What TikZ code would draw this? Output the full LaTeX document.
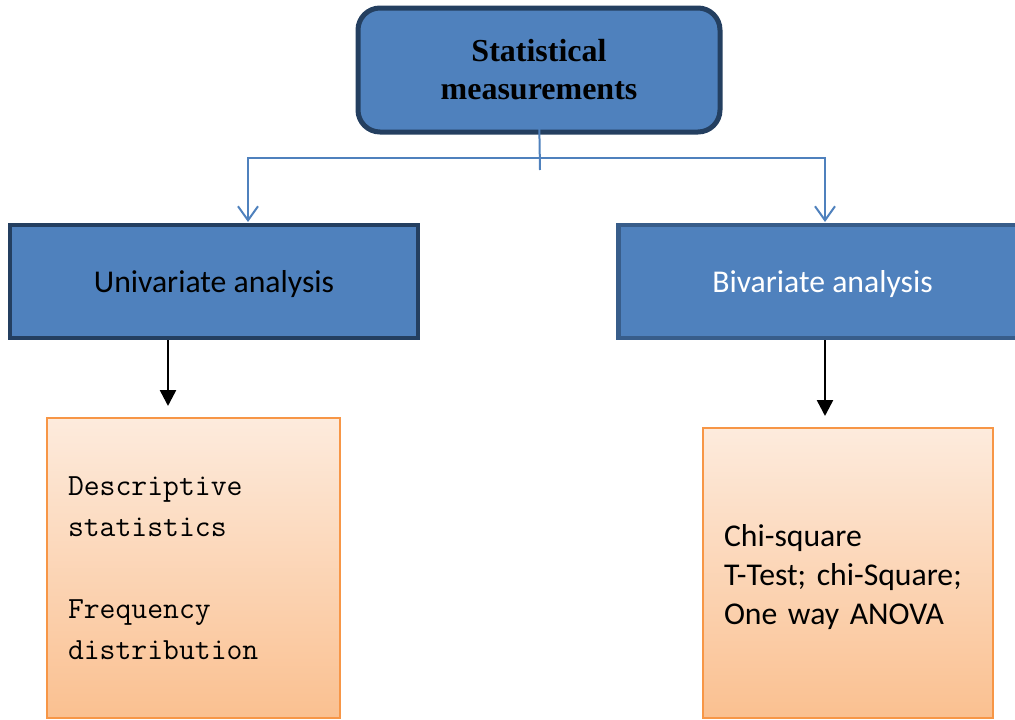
\documentclass[tikz,border=0pt]{standalone}
\usepackage{fontspec}
\setmainfont{Liberation Serif}
\newfontfamily\calibri{Carlito}
\usetikzlibrary{arrows.meta}
\definecolor{boxblue}{HTML}{4F81BD}
\definecolor{darknavy}{HTML}{243F60}
\definecolor{midnavy}{HTML}{385D8A}
\definecolor{peachtop}{HTML}{FDEBDD}
\definecolor{peachbot}{HTML}{FAC090}
\definecolor{orangeline}{HTML}{F79646}
\tikzset{
    headbox/.style={draw=darknavy, fill=boxblue, line width=5pt, rounded corners=22pt,
        minimum width=362pt, minimum height=124pt, align=center,
        font=\bfseries\fontsize{32}{38}\selectfont},
    groupbox/.style={fill=boxblue, line width=4.5pt, minimum width=408pt,
        minimum height=113pt, text height=24pt, text depth=3pt,
        font=\calibri\fontsize{31.7}{39}\selectfont},
    listbox/.style={draw=orangeline, line width=2.5pt, top color=peachtop,
        bottom color=peachbot, align=left, inner xsep=21pt, inner ysep=0pt},
    forkline/.style={draw=boxblue, line width=2pt},
    forkarrow/.style={forkline, -{Straight Barb[length=14pt, width=20pt]}},
    downarrow/.style={line width=2.5pt, -{Triangle[length=16pt, width=16pt]}}
}

\begin{document}
\begin{tikzpicture}[x=1pt, y=-1pt]
\clip (0,0) rectangle (1015,720);
% blue boxes
\node[headbox] (stat) at (539,70) {Statistical\\measurements};
\node[groupbox, draw=darknavy] (uni) at (214,281.5) {Univariate analysis};
\node[groupbox, draw=midnavy, text=white] (bi) at (822.5,281.5) {Bivariate analysis};
% orange boxes
\node[listbox, text width=251pt, minimum height=300pt,
    font=\ttfamily\fontsize{30.8}{41}\selectfont] (desc) at (193.5,568)
    {Descriptive\\statistics\\[41pt]Frequency\\distribution};
\node[listbox, text width=248pt, minimum height=290pt, text depth=76pt,
    font=\calibri\fontsize{31.7}{39}\selectfont] (tests) at (848,573)
    {Chi-square\\T-Test; chi-Square;\\One way ANOVA};
% fork from the top box
\coordinate (fork) at (540,158);
\coordinate (unitop) at (248,222);
\coordinate (bitop) at (825,222);
\draw[forkline] ([yshift=-38pt]stat.center) -- ([yshift=-12pt]fork);
\draw[forkarrow] (fork) -| (unitop);
\draw[forkarrow] (fork) -| (bitop);
% down arrows
\coordinate (unidown) at (168,406);
\coordinate (bidown) at (825,416);
\draw[downarrow] (unidown |- uni.south) -- (unidown);
\draw[downarrow] (bidown |- bi.south) -- (bidown);
\end{tikzpicture}
\end{document}
